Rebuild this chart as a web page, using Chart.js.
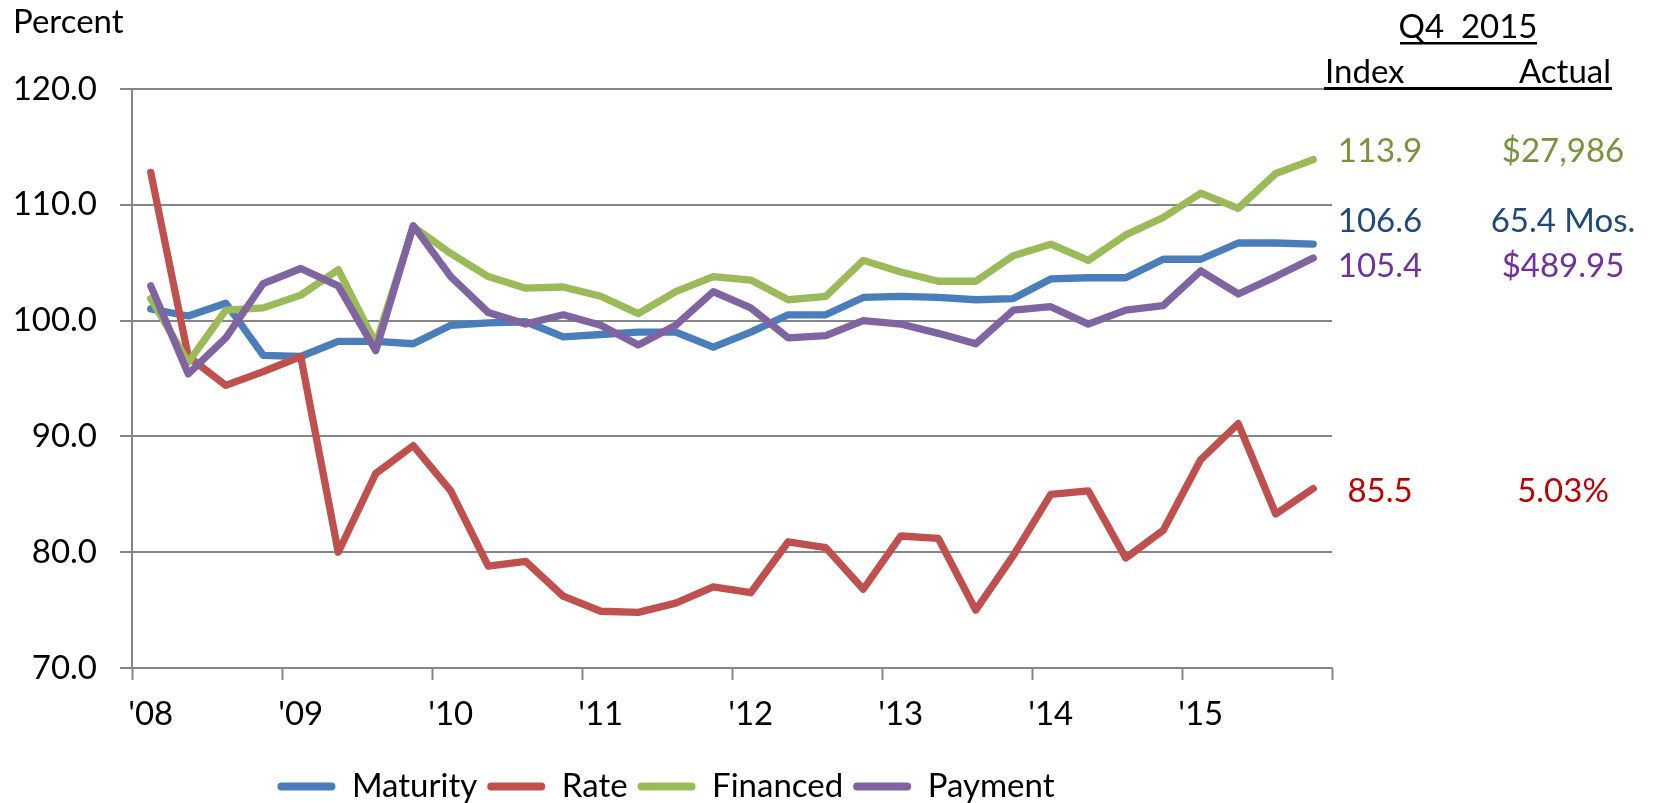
<!DOCTYPE html>
<html>
<head>
<meta charset="utf-8">
<script src="https://cdn.jsdelivr.net/npm/chart.js@4.4.1/dist/chart.umd.min.js"></script>
<style>
  html, body { margin: 0; padding: 0; background: #fff; }
</style>
</head>
<body>
<canvas id="chart" width="1653" height="803"></canvas>
<script>
// quarterly index values, Q1 2008 .. Q4 2015
var quarters = [];
for (var y = 2008; y <= 2015; y++) {
  for (var q = 1; q <= 4; q++) quarters.push('Q' + q + ' ' + y);
}
var yearLabels = ["'08", "'09", "'10", "'11", "'12", "'13", "'14", "'15"];

var maturity = [101.0, 100.4, 101.5, 97.0, 96.9, 98.2, 98.2, 98.0, 99.6, 99.8, 99.9, 98.6, 98.8, 99.0, 99.0, 97.7,
                99.0, 100.5, 100.5, 102.0, 102.1, 102.0, 101.8, 101.9, 103.6, 103.7, 103.7, 105.3, 105.3, 106.7, 106.7, 106.6];
var rate = [112.8, 96.9, 94.4, 95.6, 96.9, 80.0, 86.8, 89.2, 85.3, 78.8, 79.2, 76.2, 74.9, 74.8, 75.6, 77.0,
            76.5, 80.9, 80.4, 76.8, 81.4, 81.2, 75.0, 79.7, 85.0, 85.3, 79.5, 81.9, 88.0, 91.1, 83.3, 85.5];
var financed = [101.9, 96.4, 100.9, 101.1, 102.2, 104.4, 98.0, 108.1, 105.8, 103.8, 102.8, 102.9, 102.1, 100.6, 102.5, 103.8,
                103.5, 101.8, 102.1, 105.2, 104.2, 103.4, 103.4, 105.6, 106.6, 105.2, 107.4, 108.9, 111.0, 109.7, 112.7, 113.9];
var payment = [103.0, 95.4, 98.5, 103.2, 104.5, 103.0, 97.4, 108.2, 103.8, 100.7, 99.7, 100.5, 99.6, 97.9, 99.6, 102.5,
               101.1, 98.5, 98.7, 100.0, 99.7, 98.9, 98.0, 100.9, 101.2, 99.7, 100.9, 101.3, 104.3, 102.3, 103.8, 105.4];

// Q4 2015 actual figures shown in the right column
var actualLabels = ['65.4 Mos.', '5.03%', '$27,986', '$489.95'];

var LINE_COLOURS = ['#4A7EBB', '#C0504D', '#9BBB59', '#8064A2'];
var TEXT_COLOURS = ['#1F497D', '#C00000', '#77933C', '#7030A0'];
// baselines for the right-hand labels, one per series
var SIDE_BASELINES = [232, 502, 162, 277];
var GRID = '#868686';
var FONT = 'Lato';
var FSIZE = 33;

function makeSet(label, data, i) {
  return {
    label: label,
    data: data,
    borderColor: LINE_COLOURS[i],
    backgroundColor: LINE_COLOURS[i],
    borderWidth: 7.3,
    borderCapStyle: 'round',
    borderJoinStyle: 'round',
    pointRadius: 0,
    tension: 0,
    order: 4 - i   // later series drawn on top
  };
}

// header, "Percent" and the Q4 2015 index/actual column
var sideText = {
  id: 'sideText',
  afterDraw: function(chart) {
    var ctx = chart.ctx;
    ctx.save();
    ctx.font = FSIZE + 'px ' + FONT;
    ctx.textBaseline = 'alphabetic';
    ctx.fillStyle = '#000';
    ctx.textAlign = 'left';
    ctx.fillText('Percent', 13, 33);

    ctx.textAlign = 'center';
    ctx.fillText('Q4  2015', 1468, 38);
    ctx.fillRect(1400, 42, 137, 2.5);

    ctx.textAlign = 'left';
    ctx.fillText('Index', 1325, 83);
    ctx.textAlign = 'right';
    ctx.fillText('Actual', 1611, 83);
    ctx.fillRect(1324, 87, 288, 3);

    chart.data.datasets.forEach(function(ds, i) {
      var last = ds.data[ds.data.length - 1];
      ctx.fillStyle = TEXT_COLOURS[i];
      ctx.textAlign = 'center';
      ctx.fillText(last.toFixed(1), 1380, SIDE_BASELINES[i]);
      ctx.fillText(actualLabels[i], 1563, SIDE_BASELINES[i]);
    });
    ctx.restore();
  }
};

var ctx = document.getElementById('chart').getContext('2d');
var chart = new Chart(ctx, {
  type: 'line',
  data: {
    labels: quarters,
    datasets: [
      makeSet('Maturity', maturity, 0),
      makeSet('Rate', rate, 1),
      makeSet('Financed', financed, 2),
      makeSet('Payment', payment, 3)
    ]
  },
  options: {
    responsive: false,
    animation: false,
    layout: { padding: { top: 89, right: 321, left: 0, bottom: -10 } },
    plugins: {
      tooltip: { enabled: false },
      legend: {
        position: 'bottom',
        labels: {
          boxWidth: 58,
          boxHeight: 8,
          useBorderRadius: true,
          borderRadius: 4,
          padding: 10,
          color: '#000',
          font: { family: FONT, size: FSIZE },
          generateLabels: function(chart) {
            return chart.data.datasets.map(function(ds, i) {
              return {
                text: ds.label,
                fillStyle: ds.borderColor,
                strokeStyle: ds.borderColor,
                lineWidth: 0,
                borderRadius: 4,
                hidden: false,
                datasetIndex: i
              };
            });
          }
        }
      }
    },
    scales: {
      x: {
        offset: true,
        afterFit: function(s) { s.height = 92; },
        grid: {
          offset: true,
          drawOnChartArea: false,
          drawTicks: true,
          tickLength: 12,
          tickWidth: 2,
          tickColor: function(c) {
            return (c.index === undefined || c.index % 4 === 0) ? GRID : 'rgba(0,0,0,0)';
          }
        },
        border: { color: GRID, width: 2 },
        ticks: {
          autoSkip: false,
          maxRotation: 0,
          padding: 15,
          color: '#000',
          font: { family: FONT, size: FSIZE },
          callback: function(v, i) { return i % 4 === 0 ? yearLabels[i / 4] : ''; }
        }
      },
      y: {
        min: 70,
        max: 120,
        afterFit: function(s) { s.width = 132; },
        grid: { color: GRID, lineWidth: 2, tickLength: 12, tickColor: GRID },
        border: { color: GRID, width: 2 },
        ticks: {
          stepSize: 10,
          padding: 23,
          color: '#000',
          font: { family: FONT, size: FSIZE },
          callback: function(v) { return v.toFixed(1); }
        }
      }
    }
  },
  plugins: [sideText]
});
</script>
</body>
</html>
